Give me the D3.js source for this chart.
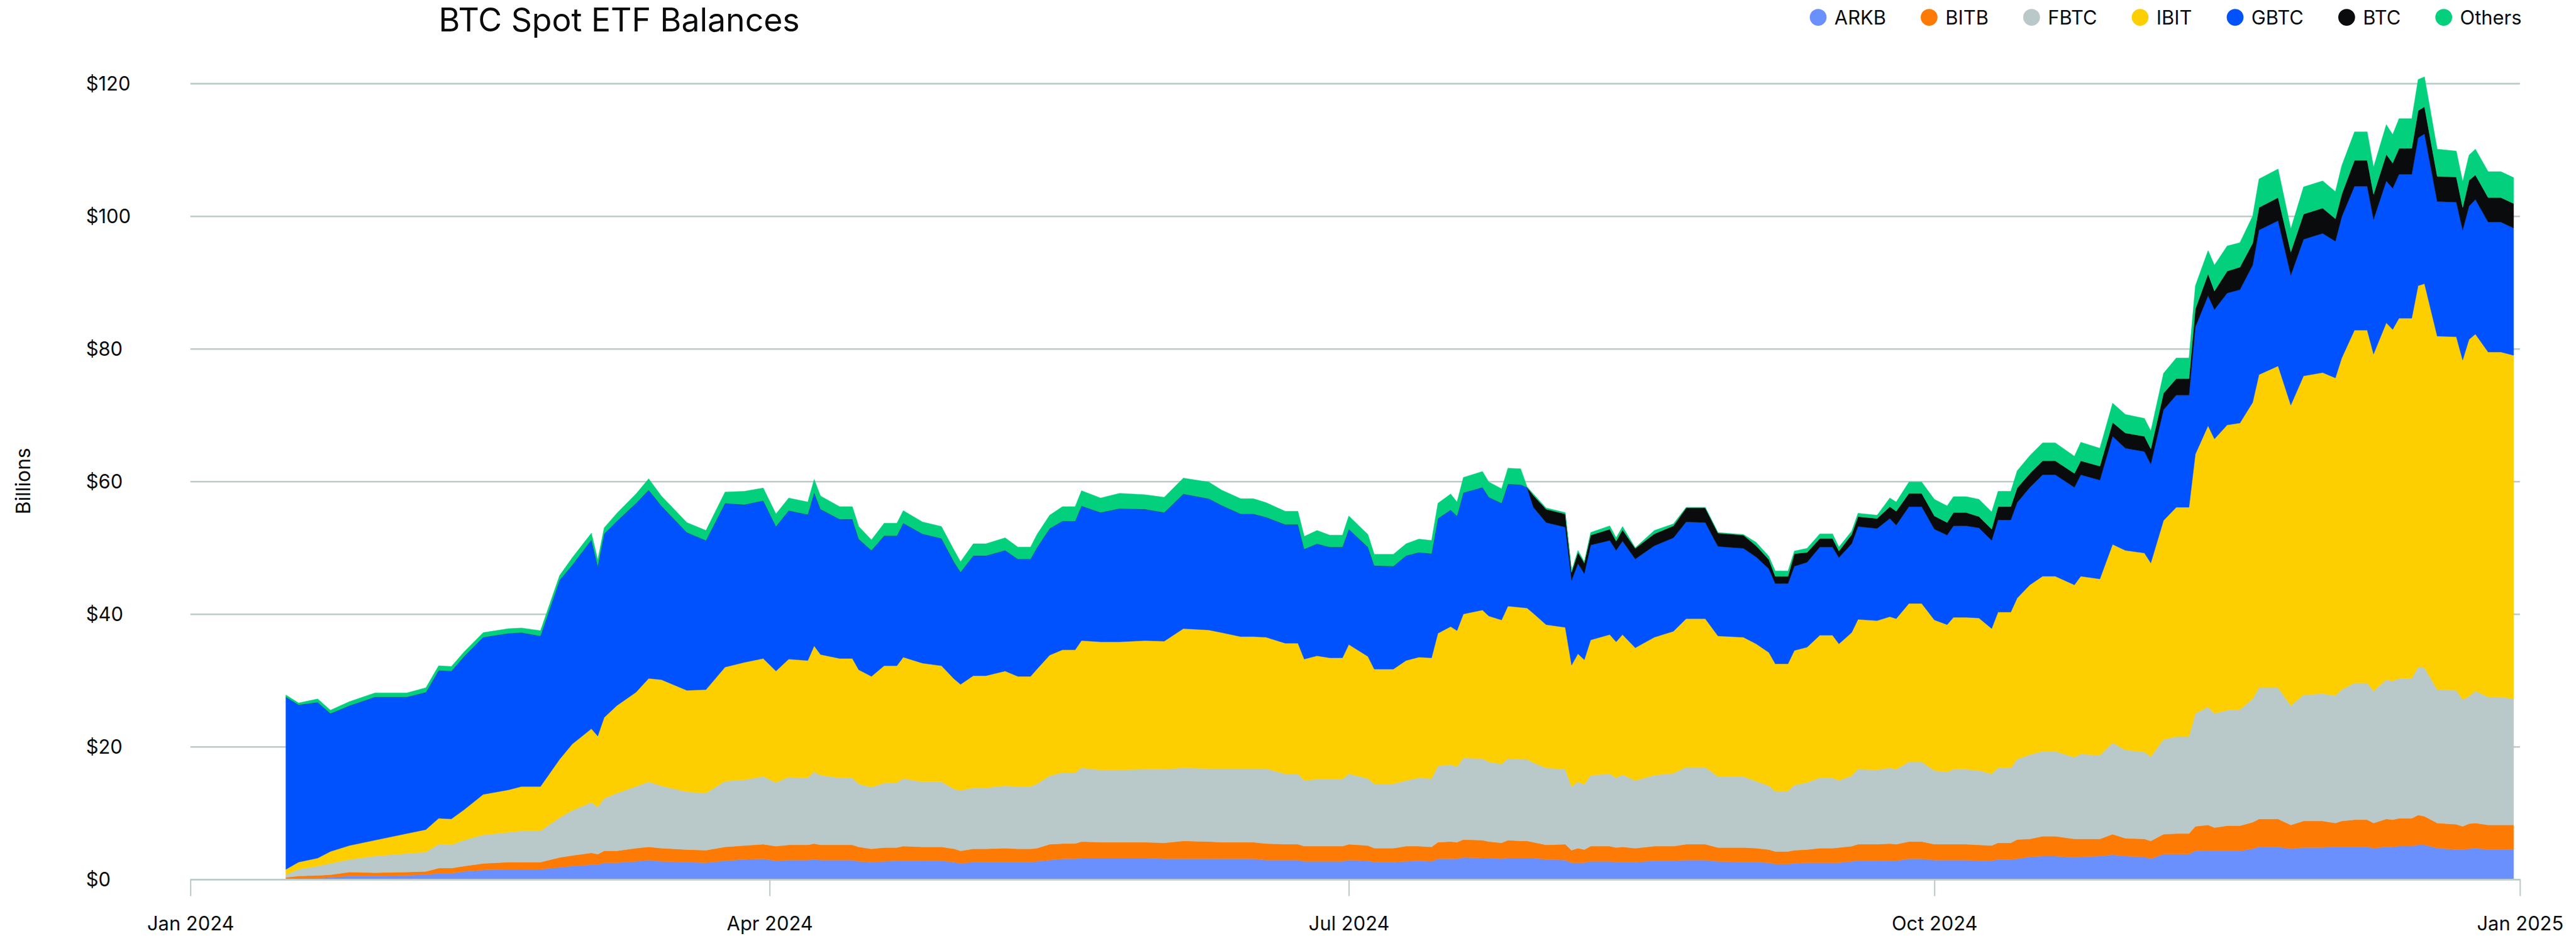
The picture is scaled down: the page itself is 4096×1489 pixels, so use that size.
<!DOCTYPE html>
<html lang="en">
<head>
<meta charset="utf-8">
<title>BTC Spot ETF Balances</title>
<script src="https://cdn.jsdelivr.net/npm/d3@7"></script>
<style>
  html, body { margin: 0; padding: 0; background: #fff; }
  svg { display: block; }
  text { font-family: Inter, "Noto Sans", sans-serif; fill: #0a0b0d; }
</style>
</head>
<body>
<script>
// ---- data (billions USD) ----
var dates = [
  "2024-01-16","2024-01-18","2024-01-21","2024-01-23","2024-01-26","2024-01-30","2024-02-04","2024-02-07","2024-02-09","2024-02-11",
  "2024-02-13","2024-02-16","2024-02-20","2024-02-22","2024-02-25","2024-02-28","2024-03-01","2024-03-04","2024-03-05","2024-03-06",
  "2024-03-08","2024-03-11","2024-03-13","2024-03-15","2024-03-19","2024-03-22","2024-03-25","2024-03-28","2024-03-31","2024-04-02",
  "2024-04-04","2024-04-07","2024-04-08","2024-04-09","2024-04-12","2024-04-14",
  "2024-04-15","2024-04-17","2024-04-19","2024-04-21","2024-04-22","2024-04-25","2024-04-28","2024-04-30","2024-05-01","2024-05-03",
  "2024-05-05","2024-05-08","2024-05-10","2024-05-12","2024-05-13","2024-05-15","2024-05-17","2024-05-19","2024-05-20","2024-05-23",
  "2024-05-26","2024-05-30","2024-06-02","2024-06-05","2024-06-09","2024-06-11","2024-06-14","2024-06-16","2024-06-18","2024-06-21",
  "2024-06-23","2024-06-24","2024-06-26","2024-06-28","2024-06-30","2024-07-01","2024-07-04","2024-07-05","2024-07-08","2024-07-10",
  "2024-07-12",
  "2024-07-14","2024-07-15","2024-07-17","2024-07-18","2024-07-19","2024-07-22","2024-07-23","2024-07-25","2024-07-26","2024-07-28",
  "2024-07-29","2024-07-30","2024-08-01","2024-08-04","2024-08-05","2024-08-06","2024-08-07","2024-08-08","2024-08-11","2024-08-12",
  "2024-08-13","2024-08-15","2024-08-18","2024-08-21","2024-08-23","2024-08-26","2024-08-28","2024-09-01","2024-09-03","2024-09-05",
  "2024-09-06","2024-09-08","2024-09-09","2024-09-11","2024-09-13","2024-09-15","2024-09-16","2024-09-18","2024-09-19","2024-09-22",
  "2024-09-24","2024-09-25","2024-09-27","2024-09-29","2024-10-01","2024-10-03","2024-10-04","2024-10-06","2024-10-08","2024-10-10",
  "2024-10-11","2024-10-13","2024-10-14","2024-10-16","2024-10-18","2024-10-20","2024-10-23","2024-10-24","2024-10-27","2024-10-29",
  "2024-10-31","2024-11-03","2024-11-04","2024-11-06","2024-11-08","2024-11-10","2024-11-11","2024-11-13","2024-11-14","2024-11-16",
  "2024-11-18","2024-11-20","2024-11-21","2024-11-24","2024-11-26","2024-11-28","2024-12-01","2024-12-03","2024-12-04","2024-12-06",
  "2024-12-08","2024-12-09","2024-12-11","2024-12-12","2024-12-13","2024-12-15","2024-12-16","2024-12-17","2024-12-19","2024-12-22",
  "2024-12-23","2024-12-24","2024-12-25","2024-12-27","2024-12-29","2024-12-31"
];

var arkb = [
  0.1,0.2,0.2,0.3,0.5,0.5,0.6,0.7,0.9,0.9,1.2,1.4,1.5,1.5,1.5,1.8,2.0,2.2,2.2,2.5,2.5,2.7,2.9,2.7,2.6,2.5,2.8,3.0,3.1,2.8,2.9,2.9,3.0,2.9,2.9,2.9,
  2.7,2.6,2.7,2.8,2.8,2.8,2.8,2.6,2.4,2.6,2.6,2.6,2.6,2.6,2.7,2.9,3.1,3.1,3.2,3.2,3.2,3.2,3.1,3.1,3.1,3.1,3.1,3.1,2.9,2.9,2.9,2.7,2.7,2.7,2.7,2.9,2.8,2.6,2.6,2.7,2.8,
  2.7,3.1,3.1,3.1,3.3,3.2,3.2,3.1,3.2,3.2,3.2,3.2,3.0,2.9,2.5,2.5,2.5,2.7,2.7,2.6,2.6,2.6,2.8,2.8,2.9,2.9,2.7,2.6,2.6,2.5,2.3,2.3,2.4,2.5,2.5,2.5,2.5,2.7,2.8,2.8,2.8,2.8,3.1,3.1,2.9,2.9,2.9,2.9,2.8,2.8,
  3.0,3.0,3.1,3.4,3.5,3.5,3.3,3.4,3.5,3.7,3.5,3.4,3.1,3.8,3.8,3.8,4.3,4.3,4.3,4.3,4.3,4.6,4.9,4.9,4.6,4.8,4.8,4.9,4.9,4.9,4.9,4.7,4.9,4.9,5.0,5.0,5.2,5.2,4.7,4.5,4.5,4.6,4.7,4.5,4.5,4.5
];
var bitb = [
  0.2,0.3,0.4,0.4,0.6,0.5,0.5,0.5,0.8,0.8,0.8,1.0,1.1,1.1,1.1,1.5,1.6,1.8,1.6,1.8,1.8,2.0,2.0,2.0,1.9,1.9,2.1,2.1,2.2,2.2,2.3,2.3,2.4,2.3,2.3,2.3,
  2.2,2.0,2.1,2.0,2.2,2.1,2.1,2.0,1.9,2.0,2.0,2.1,2.0,2.0,2.0,2.4,2.3,2.3,2.5,2.4,2.4,2.4,2.4,2.7,2.6,2.5,2.5,2.5,2.5,2.4,2.4,2.3,2.3,2.3,2.3,2.4,2.3,2.1,2.1,2.3,2.2,
  2.2,2.5,2.6,2.5,2.7,2.7,2.5,2.4,2.7,2.6,2.6,2.4,2.2,2.4,1.9,2.2,2.0,2.3,2.3,2.2,2.3,2.1,2.2,2.2,2.4,2.4,2.1,2.2,2.1,2.0,1.9,1.9,2.0,2.0,2.2,2.2,2.3,2.3,2.5,2.5,2.6,2.5,2.6,2.6,2.4,2.4,2.4,2.4,2.4,2.3,
  2.5,2.5,2.9,2.7,3.0,3.0,2.8,2.7,2.6,3.1,2.7,2.7,2.7,3.0,3.1,3.1,3.7,3.9,3.5,3.8,3.8,4.0,4.2,4.2,3.6,4.0,4.0,3.6,3.9,4.1,4.1,3.8,4.2,4.1,4.2,4.2,4.5,4.3,3.8,3.8,3.5,3.8,3.8,3.7,3.7,3.7
];
var fbtc = [
  0.4,1.0,1.4,1.7,1.9,2.5,2.8,2.9,3.6,3.5,3.9,4.3,4.5,4.7,4.7,6.0,6.8,7.6,7.1,7.9,8.7,9.3,9.8,9.4,8.7,8.6,9.9,9.9,10.2,9.6,10.2,10.1,10.8,10.5,10.1,10.1,
  9.5,9.3,9.7,9.8,10.2,9.8,9.8,9.0,9.1,9.2,9.2,9.4,9.4,9.4,9.7,10.3,10.7,10.7,11.1,10.9,10.9,11.0,11.1,11.0,11.0,11.1,11.1,11.1,11.3,10.6,10.6,9.9,10.1,10.1,10.1,10.6,10.1,9.7,9.7,9.9,10.3,
  10.3,11.5,11.6,11.4,12.3,12.3,12.0,11.9,12.3,12.3,12.3,12.0,11.6,11.3,9.6,10.0,9.8,10.7,10.9,10.5,10.9,10.2,10.7,11.0,11.6,11.6,10.7,10.7,10.1,9.6,9.1,9.1,9.8,10.1,10.6,10.6,10.1,10.6,11.3,11.2,11.4,11.3,12.0,12.0,11.1,10.9,11.3,11.3,11.2,10.8,
  11.3,11.3,12.1,12.7,12.8,12.8,12.3,12.8,12.6,13.8,13.3,13.1,12.7,14.3,14.6,14.6,17.0,17.8,17.2,17.4,17.5,18.6,19.8,19.8,18.0,19.0,19.2,19.2,19.8,20.6,20.6,19.9,21.0,20.9,21.1,21.1,22.3,22.4,20.1,20.2,19.1,19.2,19.9,19.3,19.3,19.0
];
var ibit = [
  0.8,1.1,1.2,1.8,2.1,2.4,3.0,3.4,3.9,3.9,4.6,6.1,6.4,6.7,6.7,8.8,10.0,11.1,10.7,12.2,13.2,14.2,15.6,16.0,15.3,15.6,17.2,17.7,17.8,16.8,17.8,17.7,19.0,18.2,18.0,18.0,
  17.2,16.7,17.7,17.6,18.3,17.9,17.5,16.6,16.0,16.9,16.9,17.3,16.6,16.6,17.3,18.2,18.5,18.5,19.2,19.3,19.3,19.4,19.3,21.0,20.9,20.5,19.9,19.9,19.8,19.7,19.7,18.3,18.6,18.3,18.3,19.5,18.4,17.3,17.3,18.1,18.2,
  18.2,20.0,20.8,20.5,21.7,22.4,22.0,21.7,23.0,22.9,22.8,22.5,21.6,21.4,18.3,19.3,18.8,20.4,21.0,20.5,21.1,20.0,20.8,21.4,22.4,22.4,21.2,21.0,20.7,20.1,19.2,19.2,20.3,20.4,21.5,21.5,20.6,21.6,22.6,22.5,22.8,22.7,23.9,23.9,22.7,22.2,22.9,22.9,23.0,21.9,
  23.5,23.5,24.3,25.6,26.4,26.4,26.0,26.8,26.6,29.9,30.1,30.0,29.2,33.0,34.6,34.6,39.1,42.4,41.4,43.0,43.2,44.7,47.2,48.5,45.3,48.1,48.4,47.9,50.0,53.2,53.2,50.8,53.8,53.0,54.3,54.3,57.5,57.9,53.3,53.3,51.2,53.8,53.8,52.0,52.0,51.8
];
var gbtc = [
  26.0,23.7,23.5,20.8,21.1,21.6,20.6,20.7,22.3,22.3,23.1,23.7,23.6,23.2,22.7,27.0,27.0,28.5,25.6,27.7,27.8,28.5,28.4,26.2,23.8,22.5,24.7,23.8,23.8,21.8,22.4,22.0,23.1,21.9,21.0,21.0,
  19.7,19.0,19.6,19.6,20.2,19.5,19.2,17.6,16.9,18.1,18.1,18.2,17.7,17.7,18.3,19.1,19.4,19.4,20.3,19.5,20.1,19.8,19.4,20.3,19.8,19.2,18.5,18.5,18.1,17.9,17.9,16.6,16.9,16.7,16.7,17.4,16.5,15.6,15.5,15.8,15.8,
  15.7,17.3,17.6,17.3,18.3,18.5,17.9,17.6,18.4,18.5,18.2,16.0,15.4,15.1,12.8,13.6,13.0,14.3,14.2,13.8,14.1,13.4,13.8,14.1,14.6,14.5,13.5,13.4,13.1,12.6,12.1,12.1,12.7,12.8,13.3,13.3,13.0,13.4,14.0,13.9,14.8,14.1,14.6,14.6,13.7,13.5,13.8,13.8,13.6,13.3,
  13.9,13.9,14.4,14.7,15.3,15.3,14.7,15.3,14.9,16.3,15.4,15.3,14.9,16.7,16.9,16.9,19.2,19.6,19.5,19.9,20.1,20.7,21.8,21.9,19.6,20.6,21.0,20.6,21.3,21.7,21.7,20.3,21.4,21.3,21.7,21.7,22.3,22.6,20.3,20.3,19.6,20.1,20.3,19.6,19.6,19.2
];
var btc = [
  0,0,0,0,0,0,0,0,0,0,0,0,0,0,0,0,0,0,0,0,0,0,0,0,0,0,0,0,0,0,0,0,0,0,0,0,
  0,0,0,0,0,0,0,0,0,0,0,0,0,0,0,0,0,0,0,0,0,0,0,0,0,0,0,0,0,0,0,0,0,0,0,0,0,0,0,0,0,
  0,0,0,0,0,0,0,0,0,0,0,1.8,2.0,2.0,1.2,1.7,1.6,1.5,1.7,1.4,1.7,1.6,1.8,1.8,2.1,2.2,2.0,2.0,1.7,1.4,1.1,1.1,1.9,1.5,1.3,1.3,1.0,1.4,1.5,1.5,1.8,2.1,2.0,2.0,2.0,1.9,2.0,2.0,1.7,1.7,
  2.0,2.0,2.2,2.1,2.1,2.1,2.1,2.1,2.1,2.1,2.3,2.3,2.3,2.5,2.5,2.5,2.7,3.3,2.8,3.3,3.4,3.3,3.4,3.5,3.5,3.8,3.8,3.4,3.4,3.9,3.9,3.8,4.0,3.8,3.9,3.9,4.1,4.1,3.8,3.8,3.4,3.9,3.7,3.7,3.7,3.7
];
var others = [
  0.3,0.3,0.5,0.5,0.6,0.6,0.6,0.7,0.7,0.7,0.7,0.7,0.7,0.7,0.8,0.7,1.1,1.0,1.0,0.9,1.2,1.4,1.7,1.5,1.5,1.5,1.7,2.0,1.9,1.9,1.9,1.9,2.0,2.0,1.9,1.9,
  1.9,1.6,1.9,1.9,1.9,1.8,1.8,1.8,1.6,1.8,1.8,1.9,1.8,1.8,2.0,2.0,2.2,2.2,2.3,2.2,2.3,2.2,2.3,2.4,2.5,2.3,2.3,2.3,2.2,2.0,2.0,1.9,2.0,1.8,1.8,2.0,1.9,1.7,1.8,1.8,2.0,
  2.0,2.3,2.4,2.1,2.3,2.4,2.3,2.2,2.4,2.4,0.1,0.2,0.2,0.2,0.2,0.3,0.2,0.4,0.5,0.5,0.5,0.1,0.5,0.3,0.1,0.1,0.1,0.1,0.5,0.5,0.8,0.8,0.4,0.6,0.7,0.7,0.6,0.5,0.5,0.5,1.3,1.4,1.7,1.7,2.5,2.5,2.4,2.4,2.6,2.6,
  2.3,2.3,2.6,2.7,2.7,2.7,2.6,2.8,2.7,2.9,2.8,2.7,2.7,3.0,3.1,3.1,3.5,3.5,3.9,3.8,3.7,4.1,4.3,4.3,3.5,4.1,4.1,4.1,4.3,4.3,4.3,4.1,4.5,4.3,4.5,4.5,4.7,4.5,4.1,3.9,3.9,3.8,3.9,3.9,3.9,3.9
];

var seriesNames = ["ARKB", "BITB", "FBTC", "IBIT", "GBTC", "BTC", "Others"];
var seriesValues = [arkb, bitb, fbtc, ibit, gbtc, btc, others];
var seriesColors = ["#6a90fe", "#fd7b05", "#b9c8c8", "#fecf00", "#0052ff", "#0a0b0d", "#03d07c"];
var yTicks = [0, 20, 40, 60, 80, 100, 120];
var xTickDates = ["2024-01-01", "2024-04-01", "2024-07-01", "2024-10-01", "2025-01-01"];

// ---- layout, in reference pixels (scaled to the window by the viewBox) ----
var W = 4906, H = 1784;
var plotLeft = 362, plotRight = 4800, plotTop = 159, plotBottom = 1676;
var gridColor = "#bccaca";
var fontFam = "Inter, 'Noto Sans', sans-serif";

var parse = d3.timeParse("%Y-%m-%d");

var table = dates.map(function (d, i) {
  var row = { date: parse(d) };
  seriesNames.forEach(function (k, j) { row[k] = seriesValues[j][i]; });
  return row;
});

var svg = d3.select("body").append("svg")
  .attr("width", 4096).attr("height", 1489)
  .attr("viewBox", "0 0 " + W + " " + H);

var x = d3.scaleTime()
  .domain([parse("2024-01-01"), parse("2025-01-01")])
  .range([plotLeft, plotRight]);
var y = d3.scaleLinear().domain([0, 120]).range([plotBottom, plotTop]);

// gridlines + y labels
svg.append("g")
  .attr("transform", "translate(" + plotLeft + ",0)")
  .call(d3.axisLeft(y).tickValues(yTicks).tickSize(-(plotRight - plotLeft))
    .tickFormat(function (d) { return "$" + d; }))
  .call(function (g) {
    g.attr("font-family", fontFam).attr("font-size", 37);
    g.select(".domain").remove();
    g.selectAll(".tick line").attr("stroke", gridColor).attr("stroke-width", 3);
    g.selectAll(".tick text").attr("x", 163 - plotLeft).attr("text-anchor", "start")
      .attr("dy", "0.36em").attr("fill", "#0a0b0d");
  });

// stacked areas
var stack = d3.stack().keys(seriesNames);
var layers = stack(table);

var area = d3.area()
  .x(function (d) { return x(d.data.date); })
  .y0(function (d) { return y(d[0]); })
  .y1(function (d) { return y(d[1]); });

svg.append("g").selectAll("path")
  .data(layers)
  .enter().append("path")
  .attr("d", area)
  .attr("fill", function (d, i) { return seriesColors[i]; })
  .attr("stroke", function (d, i) { return seriesColors[i]; })
  .attr("stroke-width", 0.6);

// x axis
svg.append("g")
  .attr("transform", "translate(0," + plotBottom + ")")
  .call(d3.axisBottom(x).tickValues(xTickDates.map(parse)).tickSize(32).tickSizeOuter(0)
    .tickFormat(d3.timeFormat("%b %Y")))
  .call(function (g) {
    g.attr("font-family", fontFam).attr("font-size", 37);
    g.select(".domain").attr("stroke", gridColor).attr("stroke-width", 3);
    g.selectAll(".tick line").attr("stroke", gridColor).attr("stroke-width", 2.5);
    g.selectAll(".tick text").attr("y", 97).attr("dy", 0).attr("fill", "#0a0b0d");
  });

// axis title
svg.append("text")
  .attr("transform", "translate(57,917) rotate(-90)")
  .attr("text-anchor", "middle")
  .attr("font-size", 38)
  .text("Billions");

// chart title
svg.append("text")
  .attr("x", 835).attr("y", 60)
  .attr("font-size", 62)
  .text("BTC Spot ETF Balances");

// legend
var legend = svg.append("g");
var cur = 3447;
seriesNames.forEach(function (name, i) {
  legend.append("circle")
    .attr("cx", cur + 16).attr("cy", 33).attr("r", 16)
    .attr("fill", seriesColors[i]);
  var t = legend.append("text")
    .attr("x", cur + 47).attr("y", 33)
    .attr("dy", "0.36em")
    .attr("font-size", 37)
    .text(name);
  cur = cur + 47 + t.node().getComputedTextLength() + 66;
});
</script>
</body>
</html>
